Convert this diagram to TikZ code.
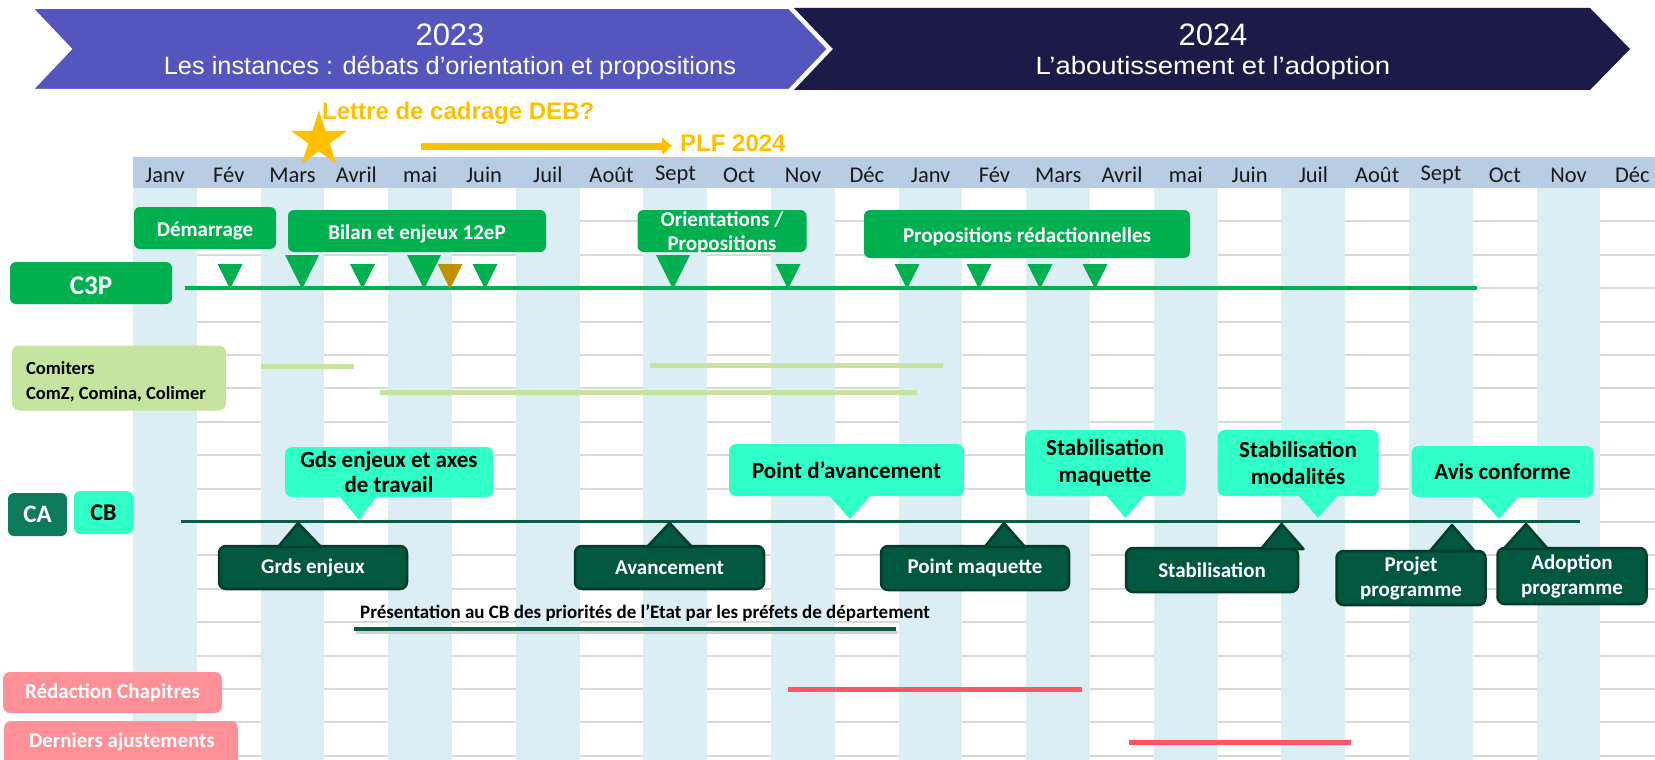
\documentclass[tikz,border=0pt]{standalone}
\usepackage{fontspec}
\setmainfont{Carlito}
\newfontfamily\arialf{Liberation Sans}
\usetikzlibrary{shapes.geometric,arrows.meta}
\definecolor{purp}{HTML}{5456BE}
\definecolor{navy}{HTML}{1C1A46}
\definecolor{hdr}{HTML}{B8CCE4}
\definecolor{shd}{HTML}{DAEEF3}
\definecolor{gridc}{HTML}{D9D9D9}
\definecolor{orng}{HTML}{FFC000}
\definecolor{gC}{HTML}{00B050}
\definecolor{olivec}{HTML}{BF9000}
\definecolor{lgr}{HTML}{C4E4A0}
\definecolor{caf}{HTML}{0E7B5B}
\definecolor{aqua}{HTML}{30FFC8}
\definecolor{dkg}{HTML}{02573F}
\definecolor{dkb}{HTML}{023D2C}
\definecolor{lineg}{HTML}{0B5B45}
\definecolor{pinkc}{HTML}{FF9098}
\definecolor{redl}{HTML}{FF5565}
\tikzset{
  gbox/.style={fill=gC, rounded corners=6pt, inner sep=0pt},
  gtext/.style={inner sep=0pt, text=white, align=center, font={\bfseries\fontsize{21}{24}\selectfont}},
  abox/.style={fill=aqua, rounded corners=7pt, inner sep=0pt, text=black, align=center,
    font={\bfseries\fontsize{23}{27}\selectfont}},
  dbox/.style={fill=dkg, draw=dkb, line width=2.5pt, rounded corners=7pt, inner sep=0pt, text=white, align=center,
    font={\bfseries\fontsize{21}{25}\selectfont}},
  dptr/.style={fill=dkg, draw=dkb, line width=2.5pt, line join=round},
  pbox/.style={fill=pinkc, rounded corners=7pt, inner sep=0pt, text=white,
    font={\bfseries\fontsize{21}{25}\selectfont}},
  mlab/.style={inner sep=0pt, text=black!90, font={\fontsize{22.5}{25}\selectfont}},
  lgline/.style={lgr, line width=5pt},
  redline/.style={redl, line width=5pt},
}
\begin{document}
\begin{tikzpicture}[x=1pt,y=-1pt]
\useasboundingbox (0,0) rectangle (1655,760);
\fill[white] (0,0) rectangle (1655,760);
% grid lines
\foreach \k in {1,...,17} \draw[gridc, line width=2pt] (133,{188+33.4*\k}) -- (1655,{188+33.4*\k});
% shaded columns
\foreach \i in {0,2,...,22} \fill[shd] ({133+63.8*\i},188) rectangle ({133+63.8*(\i+1)},760);
% header
\fill[hdr] (133,157) rectangle (1655,188);
\foreach \m [count=\j from 0] in {Janv,Fév,Mars,Avril,mai,Juin,Juil,Août,Sept,Oct,Nov,Déc,Janv,Fév,Mars,Avril,mai,Juin,Juil,Août,Sept,Oct,Nov,Déc}
  \node[mlab] (m\j) at ({165+63.8*\j},175) {\m};
% banners
\fill[navy] (794,8) -- (1590,8) -- (1630,49) -- (1590,90) -- (794,90) -- (833,49) -- cycle;
\filldraw[fill=purp, draw=white, line width=2pt, line join=miter] (32,8) -- (789,8) -- (828,49) -- (789,90) -- (32,90) -- (71,49) -- cycle;
\node[text=white, font={\arialf\fontsize{31}{34}\selectfont}] (y23) at (450,35) {2023};
\node[text=white, font={\arialf\fontsize{25}{28}\selectfont}] (t23) at (450,68) {\scalebox{1.015}[1]{Les instances : débats d’orientation et propositions}};
\node[text=white, font={\arialf\fontsize{31}{34}\selectfont}] (y24) at (1213,35) {2024};
\node[text=white, font={\arialf\fontsize{25}{28}\selectfont}] (t24) at (1213,68) {\scalebox{1.1}[1]{L’aboutissement et l’adoption}};
% orange
\node[star, star points=5, star point ratio=2.618, minimum size=59pt, fill=orng, inner sep=0pt] (star) at (319,140) {};
\node[anchor=west, inner sep=0pt, text=orng, font={\arialf\bfseries\fontsize{24}{28}\selectfont}] (lettre) at (322,113) {Lettre de cadrage DEB?};
\coordinate (plfa) at (421,146);
\coordinate (plfb) at (672,146);
\draw[orng, line width=7pt, -{Triangle[length=10pt, width=17pt]}] (plfa) -- (plfb);
\node[anchor=west, inner sep=0pt, text=orng, font={\arialf\bfseries\fontsize{24}{28}\selectfont}] (plf) at (680,143) {PLF 2024};
% C3P row
\node[gbox, minimum width=162, minimum height=42] (c3p) at (91,283) {};
\node[gtext, font={\bfseries\fontsize{27}{30}\selectfont}] (c3pt) at (91,285.5) {C3P};
\coordinate (c3pa) at (185,288);
\coordinate (c3pb) at (1477,288);
\draw[gC, line width=4pt] (c3pa) -- (c3pb);
\foreach \x in {230,362.5,485,788,907,979,1040,1095}
  \fill[gC] ({\x-12.5},264) -- ({\x+12.5},264) -- (\x,289) -- cycle;
\foreach \x in {302,424,673}
  \fill[gC] ({\x-17},255) -- ({\x+17},255) -- (\x,289) -- cycle;
\fill[olivec] (437.5,264) -- (462.5,264) -- (450,289) -- cycle;
\node[gbox, minimum width=142, minimum height=42] (dem) at (205,228) {};
\node[gtext] (demt) at (205,231) {Démarrage};
\node[gbox, minimum width=258, minimum height=42] (bil) at (417,231) {};
\node[gtext] (bilt) at (417,234) {Bilan et enjeux 12eP};
\node[gbox, minimum width=169, minimum height=42] (ori) at (722,231) {};
\node[gtext] (orit) at (722,233) {Orientations /\\Propositions};
\node[gbox, minimum width=326, minimum height=48] (prop) at (1027,234) {};
\node[gtext] (propt) at (1027,237) {Propositions rédactionnelles};
% Comiters
\node[fill=lgr, rounded corners=7pt, minimum width=214, minimum height=65, inner sep=0pt] (com) at (119,378) {};
\node[anchor=west, inner sep=0pt, align=left, font={\bfseries\fontsize{18.5}{25}\selectfont}] (comt) at (26,382) {Comiters\\ComZ, Comina, Colimer};
\draw[lgline] (261,366) -- (354,366);
\draw[lgline] (380,392) -- (917,392);
\draw[lgline] (650,365) -- (943,365);
% CA / CB
\node[fill=caf, rounded corners=6pt, minimum width=59, minimum height=43, inner sep=0pt, text=white, font={\bfseries\fontsize{25}{28}\selectfont}] (ca) at (37.5,514.5) {CA};
\node[fill=aqua, rounded corners=6pt, minimum width=59, minimum height=43, inner sep=0pt, text=black, font={\bfseries\fontsize{24}{27}\selectfont}] (cb) at (103.5,512.5) {CB};
\coordinate (caa) at (181,521.5);
\coordinate (cab) at (1580,521.5);
\draw[lineg, line width=3pt] (caa) -- (cab);
% aqua callouts
\fill[aqua] (337.5,494) -- (359,520) -- (378.6,494) -- cycle;
\node[abox, minimum width=208, minimum height=50] (gds) at (389,472) {Gds enjeux et axes\\[-2pt]de travail};
\fill[aqua] (827.5,494) -- (850,519) -- (872,494) -- cycle;
\node[abox, minimum width=235, minimum height=52] (pav) at (846.5,470) {Point d’avancement};
\fill[aqua] (1105,494) -- (1125.5,518) -- (1146,494) -- cycle;
\node[abox, minimum width=160, minimum height=66] (smaq) at (1105,463) {Stabilisation\\maquette};
\fill[aqua] (1297,494) -- (1318,518) -- (1339,494) -- cycle;
\node[abox, minimum width=161, minimum height=66] (smod) at (1298,463) {Stabilisation\\modalités};
\fill[aqua] (1476,494) -- (1499,519) -- (1520.5,494) -- cycle;
\node[abox, minimum width=182, minimum height=51] (avis) at (1502.5,471.5) {Avis conforme};
% dark callouts
\node[dbox, minimum width=188, minimum height=43] (grds) at (313,567.5) {Grds enjeux};
\filldraw[dptr] (278,547) -- (298,523) -- (321,547) -- cycle;
\node[dbox, minimum width=189, minimum height=43] (avc) at (669.5,567.5) {Avancement};
\filldraw[dptr] (647,547) -- (669.6,523) -- (692,547) -- cycle;
\node[dbox, minimum width=188, minimum height=44] (pmaq) at (975,568) {Point maquette};
\filldraw[dptr] (984.6,547) -- (1004,523) -- (1025,547) -- cycle;
\node[dbox, minimum width=172, minimum height=44] (stab) at (1212,570) {Stabilisation};
\filldraw[dptr] (1261,549) -- (1281.6,524) -- (1303.5,549) -- cycle;
\node[dbox, minimum width=149, minimum height=54] (proj) at (1411,578) {Projet\\programme};
\filldraw[dptr] (1430,551) -- (1452,525) -- (1474.5,551) -- cycle;
\node[dbox, minimum width=149, minimum height=56] (adop) at (1572,576) {Adoption\\programme};
\filldraw[dptr] (1503.5,549) -- (1526,524) -- (1548,549) -- cycle;
% presentation
\draw[black!18, line width=3pt] (356,632) -- (898,632);
\coordinate (presa) at (353.6,629);
\coordinate (presb) at (896,629);
\draw[lineg, line width=4pt] (presa) -- (presb);
\node[anchor=west, inner sep=0pt, text=black, font={\bfseries\fontsize{19}{22}\selectfont}] (pres) at (360,613) {Présentation au CB des priorités de l’Etat par les préfets de département};
% pink rows
\node[pbox, minimum width=219, minimum height=41] (redac) at (112.5,692.5) {Rédaction Chapitres};
\node[pbox, minimum width=234, minimum height=50] (dern) at (121,746) {};
\node[inner sep=0pt, text=white, font={\bfseries\fontsize{21}{25}\selectfont}] (dernt) at (122,742) {Derniers ajustements};
\draw[redline] (787.5,689) -- (1081.8,689);
\draw[redline] (1129,742) -- (1350.6,742);
\end{tikzpicture}
\end{document}
